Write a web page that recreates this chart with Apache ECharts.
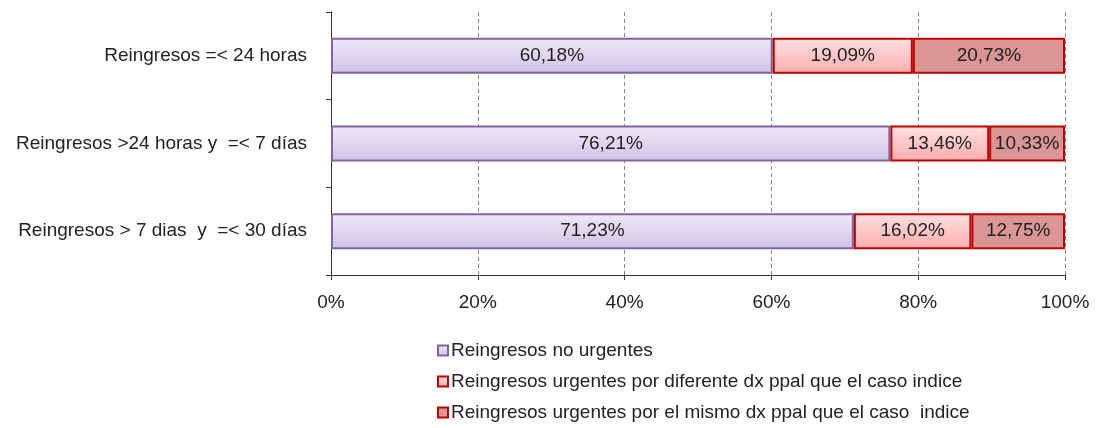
<!DOCTYPE html>
<html>
<head>
<meta charset="utf-8">
<script src="https://cdn.jsdelivr.net/npm/echarts@6/dist/echarts.min.js"></script>
<style>
  html, body { margin: 0; padding: 0; background: #fff; }
</style>
</head>
<body>
<div id="main" style="width: 1097px;height:428px;"></div>
<script>
// categorias (de arriba a abajo)
var categorias = ['Reingresos =< 24 horas', 'Reingresos >24 horas y  =< 7 días', 'Reingresos > 7 dias  y  =< 30 días'];
var noUrgentes = [60.18, 76.21, 71.23];
var urgentesDiferente = [19.09, 13.46, 16.02];
var urgentesMismo = [20.73, 10.33, 12.75];
var nombres = ['Reingresos no urgentes', 'Reingresos urgentes por diferente dx ppal que el caso indice', 'Reingresos urgentes por el mismo dx ppal que el caso  indice'];
var ticksX = [0, 20, 40, 60, 80, 100];

var myChart = echarts.init(document.getElementById('main'));

function grad(c1, c2) {
    return new echarts.graphic.LinearGradient(0, 0, 0, 1, [
        {offset: 0, color: c1},
        {offset: 1, color: c2}
    ]);
}

var etiqueta = {
    show: true,
    position: 'inside',
    color: '#222',
    fontSize: 19,
    fontFamily: 'Liberation Sans',
    formatter: function (p) { return p.value.toFixed(2).replace('.', ',') + '%'; }
};

var option = {
    animation: false,
    textStyle: {fontFamily: 'Liberation Sans'},
    grid: {left: 331, right: 32, top: 12, bottom: 153},
    legend: {
        orient: 'vertical',
        left: 437,
        top: 341,
        height: 120,
        padding: 0,
        icon: 'rect',
        itemWidth: 10,
        itemHeight: 10,
        itemGap: 12,
        textStyle: {fontSize: 19, color: '#222', padding: [0, 0, 0, -2]},
        data: nombres
    },
    xAxis: {
        type: 'value',
        min: 0,
        max: 100,
        interval: 20,
        axisLine: {show: true, lineStyle: {color: '#333', width: 1}},
        axisTick: {show: true, length: 5, lineStyle: {color: '#333'}},
        axisLabel: {
            color: '#222', fontSize: 19, margin: 18,
            formatter: function (v) { return ticksX.indexOf(v) >= 0 ? v + '%' : ''; }
        },
        splitLine: {show: true, lineStyle: {color: '#888', type: [4, 3]}}
    },
    yAxis: {
        type: 'category',
        inverse: true,
        data: categorias,
        axisLine: {show: true, lineStyle: {color: '#333', width: 1}},
        axisTick: {show: true, length: 5, lineStyle: {color: '#333'}},
        axisLabel: {color: '#222', fontSize: 19, margin: 24}
    },
    series: [
        {
            name: nombres[0],
            type: 'bar',
            stack: 'total',
            barWidth: 36,
            data: noUrgentes,
            label: etiqueta,
            itemStyle: {color: grad('#efeaf8', '#cfc2e6'), borderColor: '#8064a2', borderWidth: 2}
        },
        {
            name: nombres[1],
            type: 'bar',
            stack: 'total',
            barWidth: 36,
            data: urgentesDiferente,
            label: etiqueta,
            itemStyle: {color: grad('#ffe0e0', '#ffadad'), borderColor: '#c00000', borderWidth: 2}
        },
        {
            name: nombres[2],
            type: 'bar',
            stack: 'total',
            barWidth: 36,
            data: urgentesMismo,
            label: etiqueta,
            itemStyle: {color: '#d99694', borderColor: '#c00000', borderWidth: 2}
        }
    ]
};

myChart.setOption(option);
</script>
</body>
</html>
